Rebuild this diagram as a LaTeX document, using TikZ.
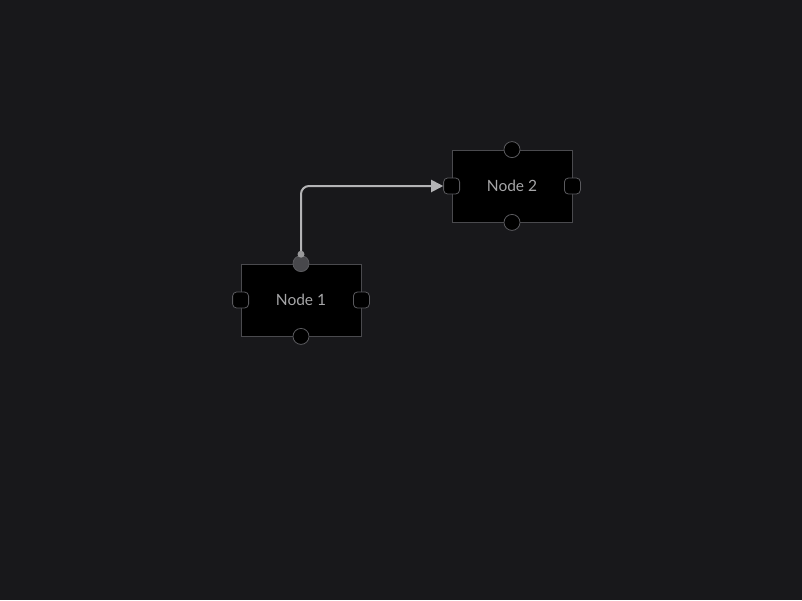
\documentclass[tikz,border=0pt]{standalone}
\usepackage{fontspec}
\setmainfont{Lato}
\usetikzlibrary{positioning,arrows.meta}
\definecolor{canvas}{HTML}{18181B}
\definecolor{nodeline}{HTML}{4A4A4E}
\definecolor{handleline}{HTML}{5A5A5E}
\definecolor{labelgray}{HTML}{A6A6A8}
\definecolor{linkgray}{HTML}{B4B4B6}
\definecolor{activefill}{HTML}{48484C}

\begin{document}
\begin{tikzpicture}[x=1pt,y=-1pt,
  flownode/.style={draw=nodeline, fill=black, line width=0.8pt, minimum width=120pt, minimum height=72pt, inner sep=0pt, text=labelgray, font=\fontsize{15.5}{18}\selectfont},
  dothandle/.style={circle, draw=handleline, fill=black, line width=0.8pt, minimum size=16pt, inner sep=0pt},
  sidehandle/.style={draw=handleline, fill=black, line width=0.8pt, rounded corners=4pt, minimum width=16pt, minimum height=16pt, inner sep=0pt},
  link/.style={draw=linkgray, line width=2pt, rounded corners=8pt, -{Triangle[length=12pt,width=12pt]}}]
\fill[canvas] (0,0) rectangle (802,600);
\useasboundingbox (0,0) rectangle (802,600);

% nodes
\node[flownode] (n1) at (301,300) {Node 1};
\node[flownode] (n2) at (512,186) {Node 2};

% handles
\node[dothandle, fill=activefill] (n1top) at (n1.north) {};
\node[dothandle] (n1bottom) at (n1.south) {};
\node[sidehandle] (n1left) at (n1.west) {};
\node[sidehandle] (n1right) at (n1.east) {};
\node[dothandle] (n2top) at (n2.north) {};
\node[dothandle] (n2bottom) at (n2.south) {};
\node[sidehandle] (n2left) at (n2.west) {};
\node[sidehandle] (n2right) at (n2.east) {};

% edge
\draw[link] (n1top.north) |- (n2left.west);
\fill[linkgray!85!black] ([yshift=1pt]n1top.north) circle (3.5pt);
\end{tikzpicture}
\end{document}
